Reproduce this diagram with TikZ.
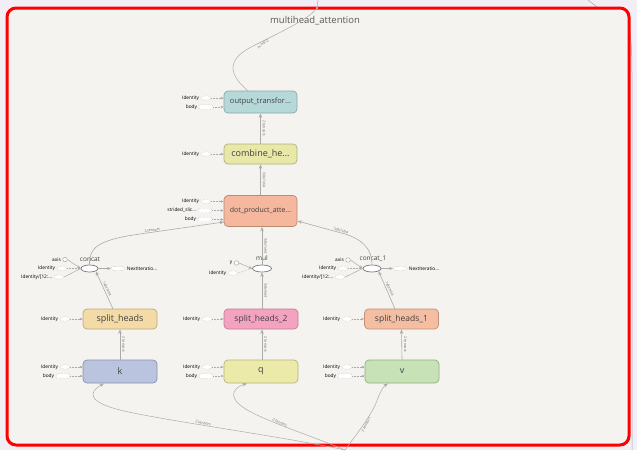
\documentclass[tikz,border=0pt]{standalone}
\usepackage{fontspec}
\setmainfont{Open Sans}
\usetikzlibrary{arrows.meta,shapes.geometric,calc}
\definecolor{bgpurple}{HTML}{F2EEF6}
\definecolor{boxfill}{HTML}{F4F3EF}
\definecolor{edgec}{HTML}{ABABAB}
\definecolor{frame}{HTML}{FF0000}
\definecolor{outF}{HTML}{B7D8D9}\definecolor{outD}{HTML}{86A9AA}
\definecolor{combF}{HTML}{E8E8A9}\definecolor{combD}{HTML}{B0B07A}
\definecolor{dotF}{HTML}{F5B89E}\definecolor{dotD}{HTML}{BE8A72}
\definecolor{shF}{HTML}{F3DBA8}\definecolor{shD}{HTML}{C2A878}
\definecolor{shtF}{HTML}{F3A3BF}\definecolor{shtD}{HTML}{C27A93}
\definecolor{shoF}{HTML}{F4BEA2}\definecolor{shoD}{HTML}{C48F76}
\definecolor{kF}{HTML}{BAC4DE}\definecolor{kD}{HTML}{8792B0}
\definecolor{qF}{HTML}{ECEAA9}\definecolor{qD}{HTML}{B5B37A}
\definecolor{vF}{HTML}{C6E2B6}\definecolor{vD}{HTML}{90B080}
\tikzset{
  opnode/.style 2 args={draw=#2, fill=#1, rounded corners=4pt, line width=0.7pt,
    minimum width=73pt, minimum height=22pt, inner sep=1pt, text=black!75},
  smalllbl/.style={font=\fontsize{4.8}{5}\selectfont, inner sep=0.5pt, text=black},
  edgelbl/.style={font=\fontsize{3.6}{4}\selectfont, inner sep=0.5pt, text=black!60},
  inel/.style={ellipse, draw=edgec, densely dotted, fill=white, minimum width=10pt, minimum height=4.5pt, inner sep=0pt, line width=0.4pt},
  inrect/.style={rectangle, rounded corners=1.5pt, draw=edgec, densely dotted, fill=white, minimum width=14pt, minimum height=4.5pt, inner sep=0pt, line width=0.4pt},
  constc/.style={circle, draw=edgec, fill=white, minimum size=4.5pt, inner sep=0pt, line width=0.5pt},
  sidearrow/.style={draw=edgec, densely dotted, line width=0.5pt, -{Stealth[length=3pt,width=2.5pt]}},
  flow/.style={draw=edgec, line width=0.6pt, -{Stealth[length=4.5pt,width=3.5pt]}},
  plainedge/.style={draw=edgec, line width=0.6pt},
  smallop/.style={ellipse, draw=edgec!70!black, fill=white, minimum width=19pt, minimum height=7pt, inner sep=0pt, line width=0.7pt},
  oplbl/.style={font=\fontsize{6.5}{7}\selectfont, inner sep=0.5pt, text=black!75},
}
\newcommand{\sidein}[6]{%
  \node[#6] (#1) at (#3,#4) {};
  \node[smalllbl, anchor=east] (#1-l) at ([xshift=-1pt]#1.west) {#2};
  \draw[sidearrow] (#1.east) -- (#1.east -| #5.west);
}
\begin{document}
\begin{tikzpicture}[x=1pt,y=-1pt]
\useasboundingbox (0,0) rectangle (637,450);
\fill[bgpurple] (0,0) rectangle (637,450);
% outer lines on the right
\coordinate (tr1) at (588,0);
\coordinate (tr2) at (597,7);
\draw[plainedge, line width=0.5pt] (tr1) -- (tr2);
\coordinate (rs1) at (628,22);
\coordinate (rs2) at (632,450);
\draw[plainedge, line width=0.5pt] (rs1) .. controls (632,40) and (632,60) .. (632,80) -- (rs2);
% group box
\draw[frame, line width=3pt, fill=boxfill, rounded corners=9pt] (7,8) rectangle (629,445);
\node[font=\fontsize{9.5}{11}\selectfont, text=black!65] (title) at (315,21) {multihead\_attention};

% main nodes
\node[opnode={outF}{outD}, font=\fontsize{7.5}{8}\selectfont] (out) at (260.5,102) {output\_transfor...};
\node[opnode={combF}{combD}, minimum height=20pt, font=\fontsize{9}{10}\selectfont] (comb) at (260.5,154) {combine\_he...};
\node[opnode={dotF}{dotD}, minimum height=31pt, font=\fontsize{7}{8}\selectfont] (dot) at (260.5,211) {dot\_product\_atte...};
\node[opnode={shF}{shD}, minimum width=74pt, minimum height=20pt, font=\fontsize{9}{10}\selectfont] (sh) at (120,319) {split\_heads};
\node[opnode={shtF}{shtD}, minimum width=74pt, minimum height=20pt, font=\fontsize{8.5}{9}\selectfont] (sh2) at (261,319) {split\_heads\_2};
\node[opnode={shoF}{shoD}, minimum width=74pt, minimum height=20pt, font=\fontsize{8.5}{9}\selectfont] (sh1) at (401.5,319) {split\_heads\_1};
\node[opnode={kF}{kD}, minimum width=74pt, minimum height=23pt, font=\fontsize{9}{10}\selectfont] (k) at (120,371.5) {k};
\node[opnode={qF}{qD}, minimum width=74pt, minimum height=23pt, font=\fontsize{9}{10}\selectfont] (q) at (261,371.5) {q};
\node[opnode={vF}{vD}, minimum width=74pt, minimum height=23pt, font=\fontsize{9}{10}\selectfont] (v) at (402,371.5) {v};

% small ops
\node[smallop] (mul) at (262,268.5) {};
\node[oplbl] (mul-l) at (262,258.5) {mul};
\node[smallop, minimum width=17pt] (cc) at (89.5,268.5) {};
\node[oplbl] (cc-l) at (90,259) {concat};
\node[smallop, minimum width=18pt] (cc1) at (372,268.5) {};
\node[oplbl] (cc1-l) at (373,258.5) {concat\_1};

% side inputs
\sidein{o1}{Identity}{206}{98}{out}{inel}
\sidein{o2}{body}{206}{107}{out}{inrect}
\sidein{c1}{Identity}{206}{154}{comb}{inel}
\sidein{d1}{Identity}{206}{201.5}{dot}{inel}
\sidein{d2}{strided\_slic...}{205}{210.5}{dot}{inrect}
\sidein{d3}{body}{205}{219.5}{dot}{inrect}
\sidein{s1}{Identity}{65}{319}{sh}{inel}
\sidein{s2}{Identity}{207}{319}{sh2}{inel}
\sidein{s3}{Identity}{347}{319}{sh1}{inel}
\sidein{k1}{Identity}{65}{367}{k}{inel}
\sidein{k2}{body}{63}{376}{k}{inrect}
\sidein{q1}{Identity}{207}{367}{q}{inel}
\sidein{q2}{body}{206}{376}{q}{inrect}
\sidein{v1}{Identity}{347}{367}{v}{inel}
\sidein{v2}{body}{345}{376}{v}{inrect}

% mul inputs
\node[constc] (my) at (236.5,263) {};
\node[smalllbl, anchor=east] (my-l) at ([xshift=-1pt]my.west) {y};
\node[inel] (mi) at (233,273) {};
\node[smalllbl, anchor=east] (mi-l) at ([xshift=-1pt]mi.west) {Identity};
\draw[plainedge, line width=0.5pt, -{Stealth[length=3.5pt,width=3pt]}] (my.east) -- (mul.west);
\draw[plainedge, line width=0.5pt, densely dotted] (mi.east) -- (mul.west);

% concat inputs
\node[constc] (ca) at (65,259.5) {};
\node[smalllbl, anchor=east] (ca-l) at ([xshift=-1pt]ca.west) {axis};
\node[inel] (ci1) at (62,268.5) {};
\node[smalllbl, anchor=east] (ci1-l) at ([xshift=-1pt]ci1.west) {Identity};
\node[inel] (ci2) at (59,277) {};
\node[smalllbl, anchor=east] (ci2-l) at ([xshift=-1pt]ci2.west) {Identity/[12:...};
\draw[plainedge, line width=0.5pt, -{Stealth[length=3.5pt,width=3pt]}] (ca.east) -- (cc.west);
\draw[plainedge, line width=0.5pt, densely dotted] (ci1.east) -- (cc.west);
\draw[plainedge, line width=0.5pt] (ci2.east) -- (cc.west);
\node[inel, minimum width=14pt] (cn) at (118,268.5) {};
\node[smalllbl, anchor=west] (cn-l) at ([xshift=1pt]cn.east) {NextIteratio...};
\draw[plainedge, line width=0.5pt, -{Stealth[length=3.5pt,width=3pt]}] (cc.east) -- (cn.west);

% concat_1 inputs
\node[constc] (da) at (348,260) {};
\node[smalllbl, anchor=east] (da-l) at ([xshift=-1pt]da.west) {axis};
\node[inel] (di1) at (343,268.5) {};
\node[smalllbl, anchor=east] (di1-l) at ([xshift=-1pt]di1.west) {Identity};
\node[inel] (di2) at (340,277) {};
\node[smalllbl, anchor=east] (di2-l) at ([xshift=-1pt]di2.west) {Identity/[12:...};
\draw[plainedge, line width=0.5pt, -{Stealth[length=3.5pt,width=3pt]}] (da.east) -- (cc1.west);
\draw[plainedge, line width=0.5pt, densely dotted] (di1.east) -- (cc1.west);
\draw[plainedge, line width=0.5pt] (di2.east) -- (cc1.west);
\node[inel, minimum width=14pt] (dn) at (400,268.5) {};
\node[smalllbl, anchor=west] (dn-l) at ([xshift=1pt]dn.east) {NextIteratio...};
\draw[plainedge, line width=0.5pt, -{Stealth[length=3.5pt,width=3pt]}] (cc1.east) -- (dn.west);

% vertical flow edges
\draw[flow] (comb.north) -- node[edgelbl, rotate=-90, anchor=south, yshift=1.5pt] (e1) {2 tensors} (out.south);
\draw[flow] (dot.north) -- node[edgelbl, rotate=-90, anchor=south, yshift=1.5pt] (e2) {?x8x?x64} (comb.south);
\draw[flow] (mul.north) -- node[edgelbl, rotate=-90, anchor=south, yshift=1.5pt] (e3) {?x8x?x64} (dot.south -| mul.north);
\draw[flow] (sh2.north -| mul.south) -- node[edgelbl, rotate=-90, anchor=south, yshift=1.5pt] (e4) {?x8x?x64} (mul.south);
\draw[flow] (q.north -| mul.south) -- node[edgelbl, rotate=-90, anchor=south, yshift=1.5pt] (e5) {2 tensors} (sh2.south -| mul.south);
\draw[flow] (k.north) -- node[edgelbl, rotate=-90, anchor=south, yshift=1.5pt] (e6) {2 tensors} (sh.south);
\draw[flow] (v.north) -- node[edgelbl, rotate=-90, anchor=south, yshift=1.5pt] (e7) {2 tensors} (sh1.south);

% split heads to concat
\coordinate (shs) at (113,309);
\draw[flow] (shs) -- node[edgelbl, rotate=-63, anchor=south, yshift=1pt] (e8) {?x8x?x64} (cc.south east);
\coordinate (sh1s) at (395,309);
\draw[flow] (sh1s) -- node[edgelbl, rotate=-63, anchor=south, yshift=1pt] (e9) {?x8x?x64} (cc1.south east);

% concat -> dot
\coordinate (dotl) at (224,222);
\draw[flow] (cc.north) .. controls (89,248) and (97,240) .. (140,234)
  -- node[edgelbl, rotate=8, anchor=south, pos=0.15] (e10) {2 tensors} (dotl);
\coordinate (dotr) at (297.5,221);
\draw[flow] (cc1.north) .. controls (372,250) and (364,240) .. (345,234)
  -- node[edgelbl, rotate=-18, anchor=south, pos=0.1] (e11) {?x8x?x64} (dotr);

% output edge
\coordinate (outtop) at (248,91);
\coordinate (exitt) at (317,8);
\coordinate (exitt2) at (318,0);
\draw[plainedge, line width=0.5pt] (outtop) .. controls (226,72) and (228,58) .. (255,45)
  .. controls (285,30) and (310,18) .. (exitt) -- (exitt2);
\node[edgelbl, rotate=38] (e12) at (263,44) {?x?x512};
\fill[edgec] (exitt) circle (1.3pt);

% bottom input edges
\coordinate (bot) at (345,450);
\draw[flow, line width=0.5pt] (bot) .. controls (280,436) and (160,420) .. (120,410)
  node[edgelbl, rotate=-12, anchor=south, pos=0.58] (e13) {2 tensors}
  .. controls (88,402) and (88,392) .. (104,383.5);
\draw[flow, line width=0.5pt] (bot) .. controls (310,435) and (255,418) .. (240,405)
  node[edgelbl, rotate=-24, anchor=south, pos=0.55] (e14) {2 tensors}
  .. controls (228,395) and (235,387) .. (247,383.5);
\draw[flow, line width=0.5pt] (bot) .. controls (358,432) and (372,415) .. (378,398)
  node[edgelbl, rotate=62, anchor=north, pos=0.5] (e15) {2 tensors}
  .. controls (381,390) and (384,386) .. (388,383.5);
\end{tikzpicture}
\end{document}
